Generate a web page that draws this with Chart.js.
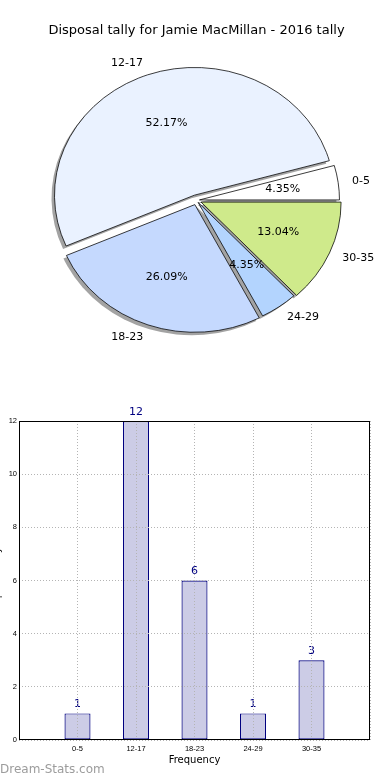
<!DOCTYPE html>
<html>
<head>
<meta charset="utf-8">
<script src="https://cdn.jsdelivr.net/npm/chart.js@4.4.1/dist/chart.umd.min.js"></script>
<style>
body { margin: 0; background: #fff; width: 390px; height: 780px; overflow: hidden; }
canvas { display: block; }
</style>
</head>
<body>
<canvas id="pieChart" width="390" height="370"></canvas>
<canvas id="barChart" width="390" height="410"></canvas>
<script>
var categories = ["0-5", "12-17", "18-23", "24-29", "30-35"];
var counts = [1, 12, 6, 1, 3];
var yTicks = [0, 2, 4, 6, 8, 10, 12];
var pieTitle = "Disposal tally for Jamie MacMillan - 2016 tally";
var barAxisTitle = "Frequency";
var sideTitle = "Disposal tally";
var watermark = "Dream-Stats.com";

// styling per slice, same order as categories
var sliceColors = ["#ffffff", "#eaf2ff", "#c5d9fe", "#b3d4fe", "#cfea8b"];
var sliceExplode = [3, 6, 5, 3, 5];

var total = counts.reduce(function (a, b) { return a + b; }, 0);
var squashY = 0.912; // pie is drawn a bit flattened, like the original

// chart.js goes clockwise, the original goes counter clockwise -> reverse
var pieLabels = categories.slice().reverse();
var pieValues = counts.slice().reverse();
var pieColors = sliceColors.slice().reverse();
var pieExplode = sliceExplode.slice().reverse();

var font = "DejaVu Sans";

function squash(ctx, cx, cy) {
    ctx.translate(cx, cy);
    ctx.scale(1, squashY);
    ctx.translate(-cx, -cy);
}

var pieShape = {
    id: "pieShape",
    beforeDatasetsDraw: function (chart) {
        var ctx = chart.ctx, a = chart.chartArea;
        var cx = (a.left + a.right) / 2, cy = (a.top + a.bottom) / 2;
        var arcs = chart.getDatasetMeta(0).data;
        arcs.forEach(function (el, i) {
            var mid = (el.startAngle + el.endAngle) / 2;
            el.x = cx + Math.cos(mid) * pieExplode[i];
            el.y = cy + Math.sin(mid) * pieExplode[i];
        });
        // shadow under the wedges
        ctx.save();
        ctx.translate(-3, 3);
        squash(ctx, cx, cy);
        ctx.fillStyle = "#a3a3a3";
        arcs.forEach(function (el) {
            ctx.beginPath();
            ctx.moveTo(el.x, el.y);
            ctx.arc(el.x, el.y, el.outerRadius, el.startAngle, el.endAngle);
            ctx.closePath();
            ctx.fill();
        });
        ctx.restore();
        ctx.save();
        squash(ctx, cx, cy);
    },
    afterDatasetsDraw: function (chart) {
        var ctx = chart.ctx, a = chart.chartArea;
        ctx.restore();
        var cy = (a.top + a.bottom) / 2;
        var arcs = chart.getDatasetMeta(0).data;
        ctx.save();
        ctx.fillStyle = "#000";
        ctx.font = "11px " + font;
        ctx.textBaseline = "middle";
        arcs.forEach(function (el, i) {
            var mid = (el.startAngle + el.endAngle) / 2;
            var c = Math.cos(mid), s = Math.sin(mid);
            var r = el.outerRadius;
            var ex = el.x, ey = cy + (el.y - cy) * squashY;
            ctx.textAlign = c >= 0 ? "left" : "right";
            ctx.fillText(pieLabels[i], ex + c * 1.1 * r, ey + s * 1.1 * r * squashY);
            ctx.textAlign = "center";
            var pct = (pieValues[i] / total * 100).toFixed(2) + "%";
            ctx.fillText(pct, ex + c * 0.6 * r, ey + s * 0.6 * r * squashY);
        });
        ctx.restore();
    }
};

new Chart(document.getElementById("pieChart"), {
    type: "pie",
    data: {
        labels: pieLabels,
        datasets: [{
            data: pieValues,
            backgroundColor: pieColors,
            borderColor: "#000",
            borderWidth: 0.8,
            radius: 140,
            clip: false
        }]
    },
    options: {
        responsive: false,
        animation: false,
        events: [],
        rotation: 90,
        radius: 140,
        layout: { padding: { left: 13, right: 10, top: 0, bottom: 8 } },
        plugins: {
            legend: { display: false },
            tooltip: { enabled: false },
            title: {
                display: true,
                text: pieTitle,
                color: "#000",
                font: { family: font, size: 13, weight: "normal" },
                padding: { top: 23, bottom: 0 }
            }
        }
    },
    plugins: [pieShape]
});

var barExtras = {
    id: "barExtras",
    afterDatasetsDraw: function (chart) {
        var ctx = chart.ctx;
        var bars = chart.getDatasetMeta(0).data;
        ctx.save();
        ctx.fillStyle = "#000080";
        ctx.font = "11px " + font;
        ctx.textAlign = "center";
        ctx.textBaseline = "middle";
        bars.forEach(function (el, i) {
            ctx.fillText(String(counts[i]), el.x, el.y - 9);
        });
        ctx.restore();
    },
    afterDraw: function (chart) {
        var ctx = chart.ctx, a = chart.chartArea;
        ctx.save();
        ctx.strokeStyle = "#000";
        ctx.lineWidth = 1;
        ctx.strokeRect(Math.round(a.left) + 0.5, Math.round(a.top) + 0.5,
            Math.round(a.right - a.left) - 1, Math.round(a.bottom - a.top) - 1);
        // y axis title, mostly cut off at the left edge
        ctx.fillStyle = "#000";
        ctx.font = "10px " + font;
        ctx.textAlign = "center";
        ctx.textBaseline = "middle";
        ctx.translate(-3, (a.top + a.bottom) / 2);
        ctx.rotate(-Math.PI / 2);
        ctx.fillText(sideTitle, 0, 0);
        ctx.restore();
        ctx.save();
        ctx.fillStyle = "#9c9c9c";
        ctx.font = "12px " + font;
        ctx.textAlign = "left";
        ctx.textBaseline = "middle";
        ctx.fillText(watermark, 0, chart.height - 10);
        ctx.restore();
    }
};

var gridStyle = { color: "#b4b4b4", lineWidth: 1, drawTicks: false, offset: false, z: 1 };
var tickFont = { family: "Liberation Sans", size: 7.5 };

new Chart(document.getElementById("barChart"), {
    type: "bar",
    data: {
        datasets: [{
            data: categories.map(function (c, i) { return { x: i, y: counts[i] }; }),
            backgroundColor: "#ccccE6",
            borderColor: "#000080",
            borderWidth: 1.2,
            borderSkipped: false,
            barPercentage: 0.445,
            categoryPercentage: 1
        }]
    },
    options: {
        responsive: false,
        animation: false,
        events: [],
        layout: { padding: { top: 51, right: 20, left: 0, bottom: 0 } },
        plugins: { legend: { display: false }, tooltip: { enabled: false } },
        scales: {
            x: {
                type: "linear",
                offset: false,
                min: -1,
                max: categories.length,
                grid: gridStyle,
                border: { display: false, dash: [1, 2] },
                ticks: {
                    stepSize: 1,
                    autoSkip: false,
                    maxRotation: 0,
                    padding: 4,
                    color: "#000",
                    font: tickFont,
                    callback: function (v) { return categories[v] || ""; }
                },
                title: {
                    display: true,
                    text: barAxisTitle,
                    color: "#000",
                    font: { family: font, size: 10 },
                    padding: { top: 0, bottom: 14 }
                },
                afterFit: function (s) { s.height = 40; }
            },
            y: {
                min: yTicks[0],
                max: yTicks[yTicks.length - 1],
                grid: gridStyle,
                border: { display: false, dash: [1, 2] },
                ticks: {
                    stepSize: yTicks[1] - yTicks[0],
                    padding: 2,
                    color: "#000",
                    font: tickFont
                },
                afterFit: function (s) { s.width = 19; }
            }
        }
    },
    plugins: [barExtras]
});
</script>
</body>
</html>
